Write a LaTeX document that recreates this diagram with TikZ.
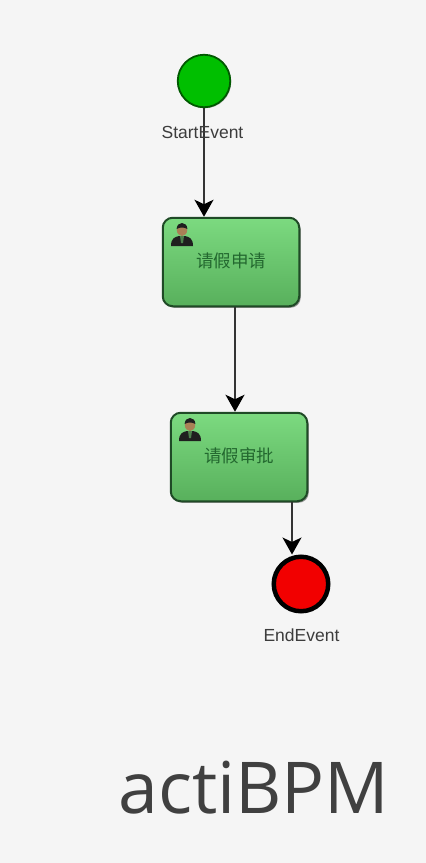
\documentclass[tikz,border=0pt]{standalone}
\usepackage{fontspec}
\setmainfont{Liberation Sans}
\newfontfamily\cjk{Noto Sans CJK SC}
\newfontfamily\titlefont{Open Sans}
\usetikzlibrary{arrows.meta,shadows,calc}
\definecolor{bgc}{HTML}{F5F5F5}
\definecolor{boxedge}{HTML}{1F4A26}
\definecolor{boxtop}{HTML}{7CDA80}
\definecolor{boxbot}{HTML}{58B05C}
\definecolor{tasktext}{HTML}{23682F}
\definecolor{evtext}{HTML}{3C3C3C}
\tikzset{
  x=1pt,y=-1pt,
  taskbox/.style={draw=boxedge,line width=2pt,rounded corners=10pt,minimum width=136.5pt,minimum height=88.5pt,
    top color=boxtop,bottom color=boxbot,drop shadow={shadow xshift=1.5pt,shadow yshift=-1.5pt,opacity=.4,fill=black},
    inner sep=0pt},
  startev/.style={circle,draw=black!65!green,line width=1.8pt,minimum size=52.5pt,inner sep=0pt,fill=green!75!black,
    drop shadow={shadow xshift=1pt,shadow yshift=-1pt,opacity=.3,fill=black}},
  endev/.style={circle,draw=black,line width=4.5pt,minimum size=54.5pt,inner sep=0pt,fill=red!95!black},
  evlabel/.style={text=evtext,font=\fontsize{17.5}{19}\selectfont,inner sep=0pt},
  tasklabel/.style={text=tasktext,font=\cjk\fontsize{17.5}{19}\selectfont,inner sep=0pt},
  flow/.style={draw=black!80,line width=2pt,-{Stealth[length=17pt,width=19pt,inset=4.5pt,color=black]}},
  thinflow/.style={flow,line width=1.5pt},
  person/.pic={
    \fill[black!88] (-11,11) .. controls (-11,3) and (-7,2) .. (-3,1) -- (3,1) .. controls (7,2) and (11,3) .. (11,11) -- cycle;
    \fill[black!50!green!40!gray] (-2,1) -- (2,1) -- (1,8) -- (-1,8) -- cycle;
    \fill[brown!65!gray] (0,-5) circle[x radius=5.2,y radius=6];
    \fill[black!88] (-5.4,-6) .. controls (-5,-14) and (5,-14) .. (5.4,-6) .. controls (2,-8) and (-2,-8) .. (-5.4,-6) -- cycle;
  }
}
\begin{document}
\begin{tikzpicture}
\useasboundingbox (0,0) rectangle (426,863);
\fill[bgc] (0,0) rectangle (426,863);
\node[startev] (start) at (204,81) {};
\node[taskbox] (apply) at (231,262) {};
\node[taskbox] (approve) at (239,457) {};
\node[endev] (finish) at (301,584) {};
\draw[flow] (start.south) -- (start.south |- apply.north);
\draw[flow] ([xshift=4pt]apply.south) -- ([xshift=-4pt]approve.north);
\draw[thinflow] ([xshift=53pt]approve.south) -- ([xshift=53pt]approve.south |- finish.north);
\node[evlabel] (startlabel) at (202.5,132) {StartEvent};
\node[evlabel] (endlabel) at (301.5,635) {EndEvent};
\node[tasklabel] (applylabel) at (231,261) {请假申请};
\node[tasklabel] (approvelabel) at (239,456) {请假审批};
\pic at (182,235) {person};
\pic at (190,430) {person};
\node[inner sep=0pt,text=black!75,font=\titlefont\fontsize{71.5}{74}\selectfont] (title) at (254,788) {actiBPM};
\end{tikzpicture}
\end{document}
